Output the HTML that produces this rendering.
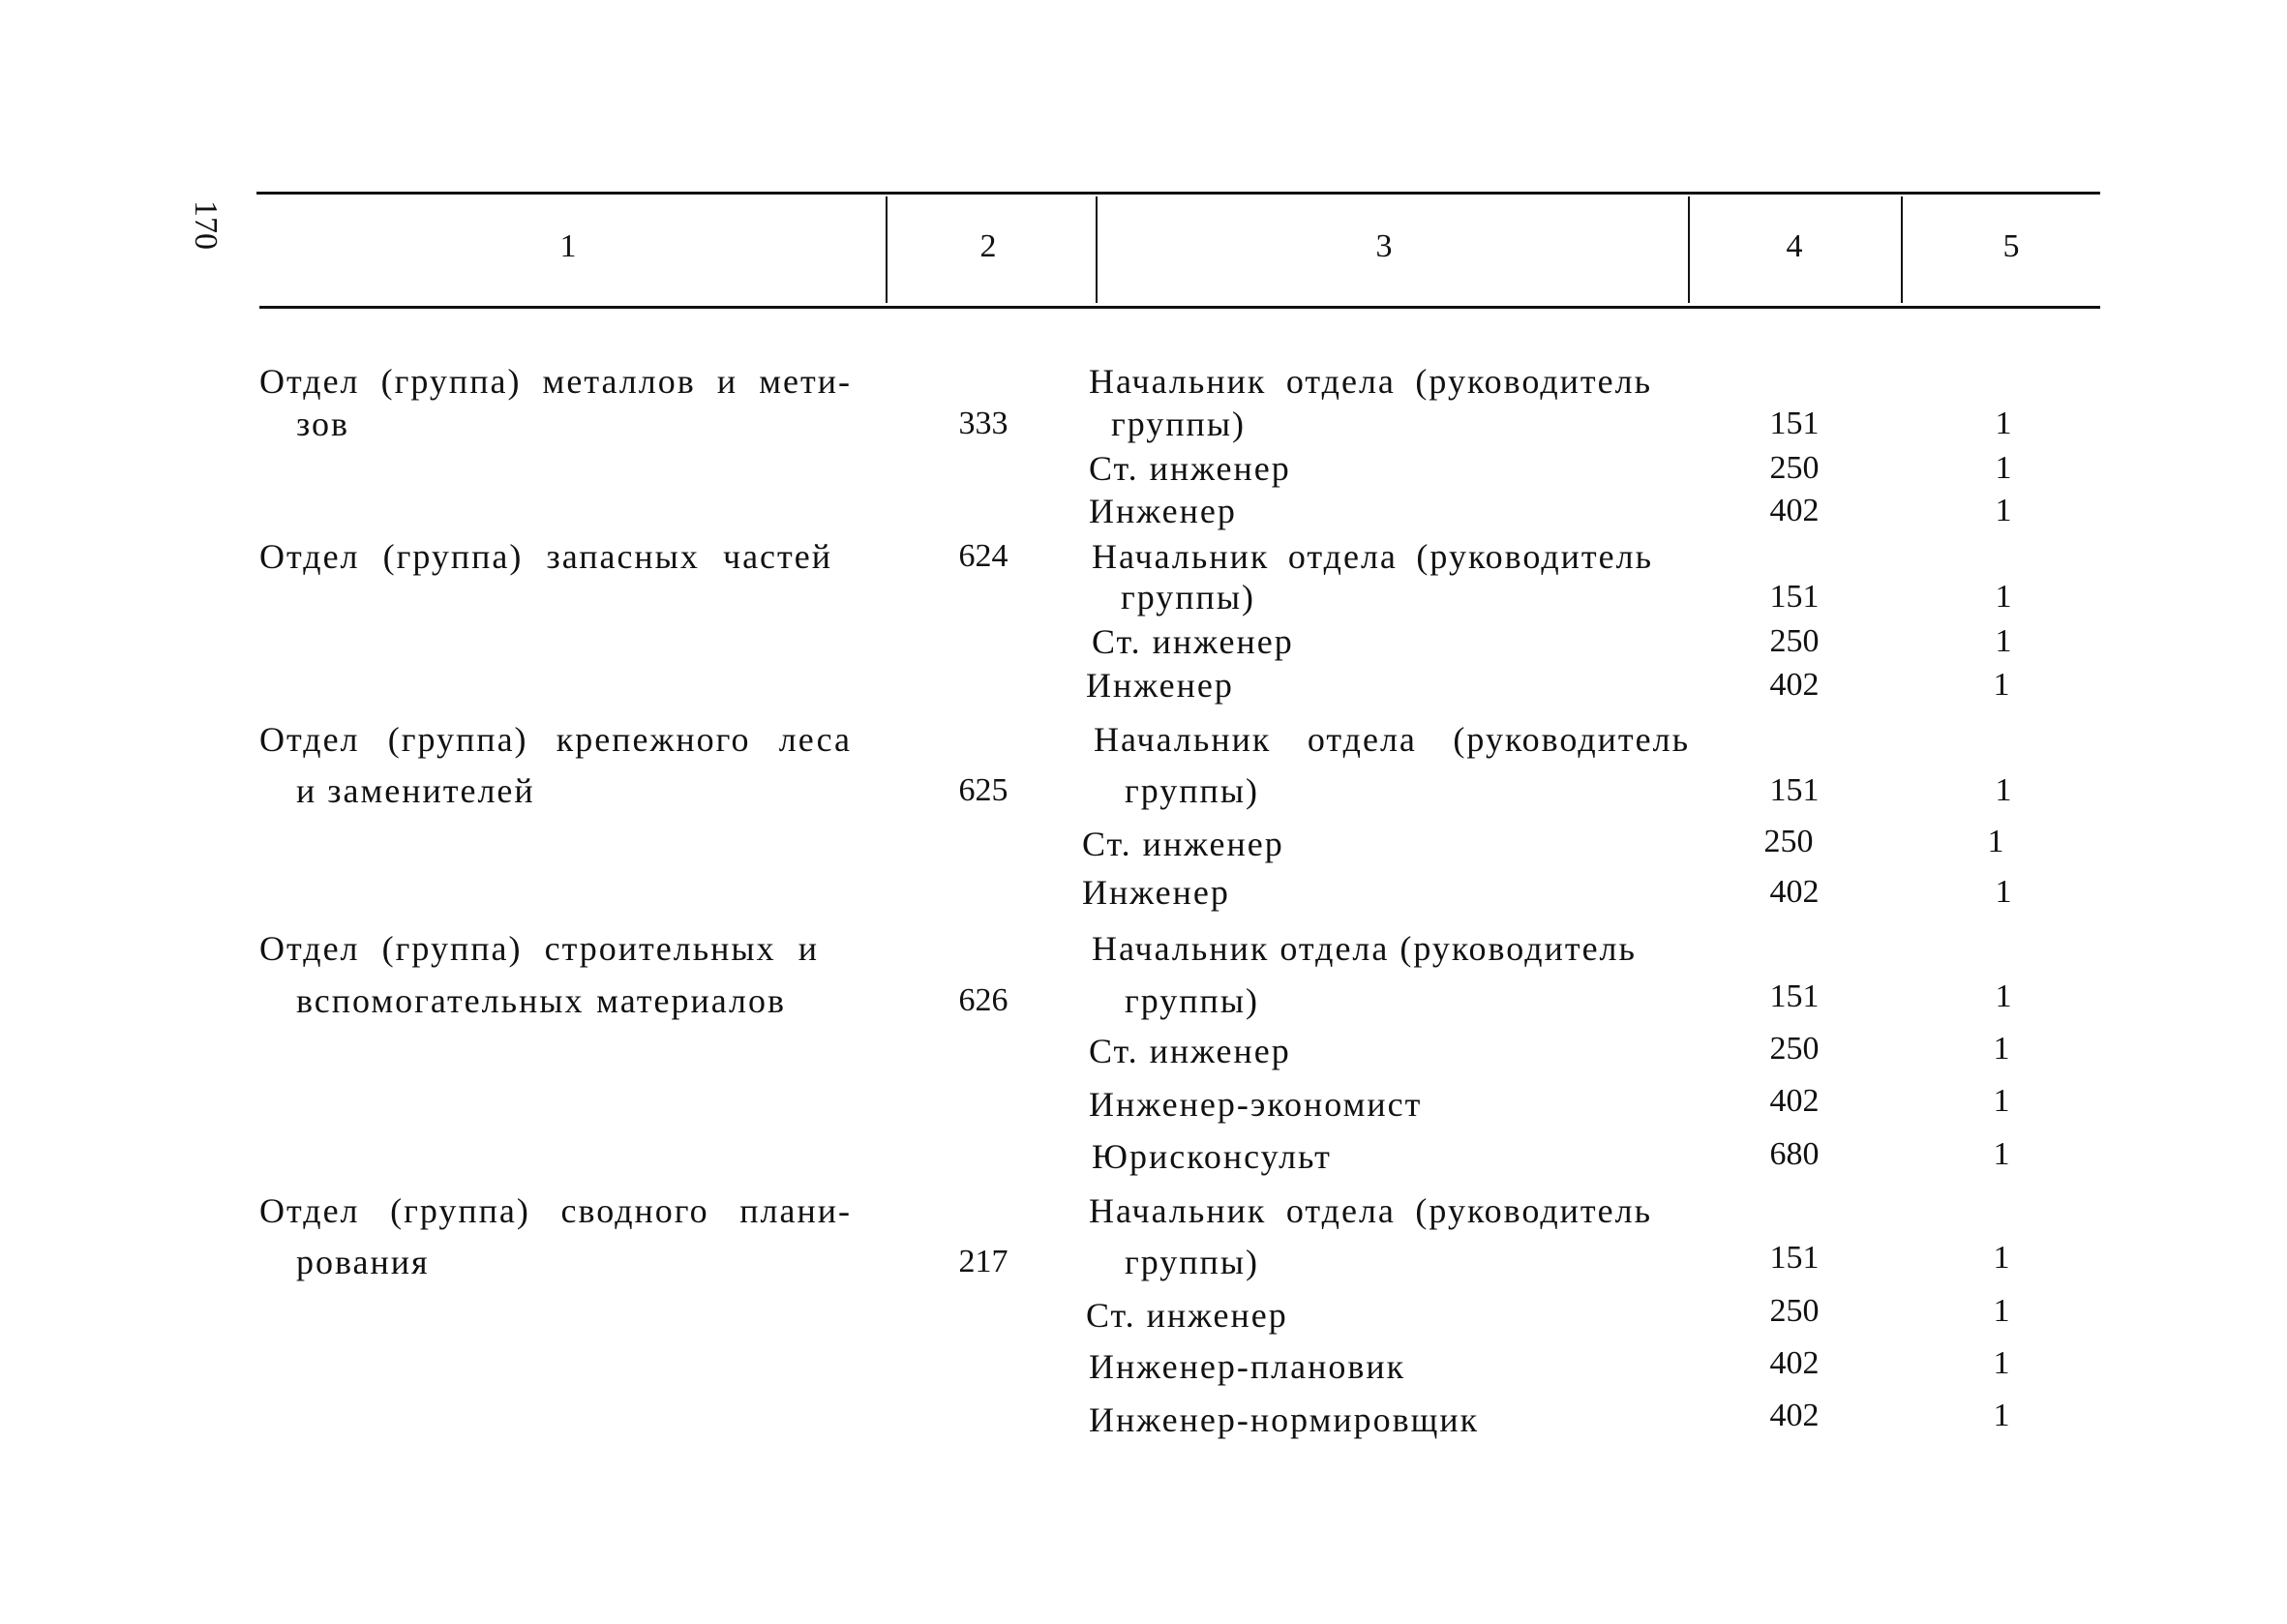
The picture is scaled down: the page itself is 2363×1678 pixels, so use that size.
<!DOCTYPE html>
<html><head><meta charset="utf-8"><style>
html,body{margin:0;padding:0;background:#fff;}
body{width:2363px;height:1678px;position:relative;overflow:hidden;font-family:"Liberation Serif",serif;color:#111;font-size:34px;}
.t{position:absolute;white-space:nowrap;line-height:40px;}
.w{font-size:36px;letter-spacing:2px;}
.j{text-align:justify;text-align-last:justify;white-space:normal;}
.c{text-align:center;width:120px;}
.hl{position:absolute;background:#111;height:3px;}
.vl{position:absolute;background:#111;width:2px;}
</style></head><body>
<div class="hl" style="left:265px;top:198px;width:1905px;"></div>
<div class="hl" style="left:268px;top:316px;width:1902px;"></div>
<div class="vl" style="left:915px;top:203px;height:110px;"></div>
<div class="vl" style="left:1132px;top:203px;height:110px;"></div>
<div class="vl" style="left:1744px;top:203px;height:110px;"></div>
<div class="vl" style="left:1964px;top:203px;height:110px;"></div>
<div class="t" style="left:232px;top:207px;transform:rotate(90deg);transform-origin:left top;">170</div>
<div class="t c" style="left:527px;top:235px;">1</div>
<div class="t c" style="left:961px;top:235px;">2</div>
<div class="t c" style="left:1370px;top:235px;">3</div>
<div class="t c" style="left:1794px;top:235px;">4</div>
<div class="t c" style="left:2018px;top:235px;">5</div>

<div class="t w j" style="left:268px;top:374px;width:612px;">Отдел (группа) металлов и мети-</div>
<div class="t w" style="left:306px;top:418px;">зов</div>
<div class="t w j" style="left:268px;top:555px;width:592px;">Отдел (группа) запасных частей</div>
<div class="t w j" style="left:268px;top:744px;width:612px;">Отдел (группа) крепежного леса</div>
<div class="t w" style="left:306px;top:797px;">и заменителей</div>
<div class="t w j" style="left:268px;top:960px;width:578px;">Отдел (группа) строительных и</div>
<div class="t w j" style="left:306px;top:1014px;width:506px;">вспомогательных материалов</div>
<div class="t w j" style="left:268px;top:1231px;width:612px;">Отдел (группа) сводного плани-</div>
<div class="t w" style="left:306px;top:1284px;">рования</div>

<div class="t c" style="left:956px;top:418px;">333</div>
<div class="t c" style="left:956px;top:555px;">624</div>
<div class="t c" style="left:956px;top:797px;">625</div>
<div class="t c" style="left:956px;top:1014px;">626</div>
<div class="t c" style="left:956px;top:1284px;">217</div>

<div class="t w j" style="left:1125px;top:374px;width:582px;">Начальник отдела (руководитель</div>
<div class="t w" style="left:1148px;top:418px;">группы)</div>
<div class="t w" style="left:1125px;top:464px;">Ст. инженер</div>
<div class="t w" style="left:1125px;top:508px;">Инженер</div>
<div class="t w j" style="left:1128px;top:555px;width:580px;">Начальник отдела (руководитель</div>
<div class="t w" style="left:1158px;top:597px;">группы)</div>
<div class="t w" style="left:1128px;top:643px;">Ст. инженер</div>
<div class="t w" style="left:1122px;top:688px;">Инженер</div>
<div class="t w j" style="left:1130px;top:744px;width:616px;">Начальник отдела (руководитель</div>
<div class="t w" style="left:1162px;top:797px;">группы)</div>
<div class="t w" style="left:1118px;top:852px;">Ст. инженер</div>
<div class="t w" style="left:1118px;top:902px;">Инженер</div>
<div class="t w" style="left:1128px;top:960px;">Начальник отдела (руководитель</div>
<div class="t w" style="left:1162px;top:1014px;">группы)</div>
<div class="t w" style="left:1125px;top:1066px;">Ст. инженер</div>
<div class="t w" style="left:1125px;top:1121px;">Инженер-экономист</div>
<div class="t w" style="left:1128px;top:1175px;">Юрисконсульт</div>
<div class="t w j" style="left:1125px;top:1231px;width:582px;">Начальник отдела (руководитель</div>
<div class="t w" style="left:1162px;top:1284px;">группы)</div>
<div class="t w" style="left:1122px;top:1339px;">Ст. инженер</div>
<div class="t w" style="left:1125px;top:1392px;">Инженер-плановик</div>
<div class="t w" style="left:1125px;top:1447px;">Инженер-нормировщик</div>

<div class="t c" style="left:1794px;top:418px;">151</div>
<div class="t c" style="left:1794px;top:464px;">250</div>
<div class="t c" style="left:1794px;top:508px;">402</div>
<div class="t c" style="left:1794px;top:597px;">151</div>
<div class="t c" style="left:1794px;top:643px;">250</div>
<div class="t c" style="left:1794px;top:688px;">402</div>
<div class="t c" style="left:1794px;top:797px;">151</div>
<div class="t c" style="left:1788px;top:850px;">250</div>
<div class="t c" style="left:1794px;top:902px;">402</div>
<div class="t c" style="left:1794px;top:1010px;">151</div>
<div class="t c" style="left:1794px;top:1064px;">250</div>
<div class="t c" style="left:1794px;top:1118px;">402</div>
<div class="t c" style="left:1794px;top:1173px;">680</div>
<div class="t c" style="left:1794px;top:1280px;">151</div>
<div class="t c" style="left:1794px;top:1335px;">250</div>
<div class="t c" style="left:1794px;top:1389px;">402</div>
<div class="t c" style="left:1794px;top:1443px;">402</div>

<div class="t c" style="left:2010px;top:418px;">1</div>
<div class="t c" style="left:2010px;top:464px;">1</div>
<div class="t c" style="left:2010px;top:508px;">1</div>
<div class="t c" style="left:2010px;top:597px;">1</div>
<div class="t c" style="left:2010px;top:643px;">1</div>
<div class="t c" style="left:2008px;top:688px;">1</div>
<div class="t c" style="left:2010px;top:797px;">1</div>
<div class="t c" style="left:2002px;top:850px;">1</div>
<div class="t c" style="left:2010px;top:902px;">1</div>
<div class="t c" style="left:2010px;top:1010px;">1</div>
<div class="t c" style="left:2008px;top:1064px;">1</div>
<div class="t c" style="left:2008px;top:1118px;">1</div>
<div class="t c" style="left:2008px;top:1173px;">1</div>
<div class="t c" style="left:2008px;top:1280px;">1</div>
<div class="t c" style="left:2008px;top:1335px;">1</div>
<div class="t c" style="left:2008px;top:1389px;">1</div>
<div class="t c" style="left:2008px;top:1443px;">1</div>
</body></html>
